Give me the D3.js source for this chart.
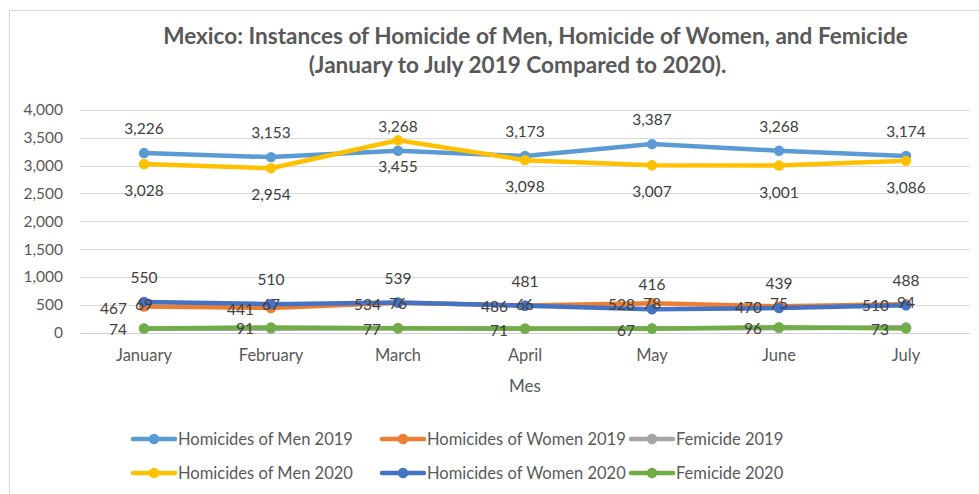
<!DOCTYPE html>
<html><head><meta charset="utf-8">
<script src="https://cdn.jsdelivr.net/npm/d3@7"></script>
<style>
html,body{margin:0;padding:0;background:#fff;}
svg{display:block;font-family:Lato,"Open Sans",sans-serif;}
</style></head>
<body>
<svg id="c" width="979" height="494"></svg>
<script>
const months = ["January","February","March","April","May","June","July"];
const men2019 = [3226,3153,3268,3173,3387,3268,3174];
const women2019 = [467,441,534,486,528,470,510];
const fem2019 = [69,67,76,66,78,75,94];
const men2020 = [3028,2954,3455,3098,3007,3001,3086];
const women2020 = [550,510,539,481,416,439,488];
const fem2020 = [74,91,77,71,67,96,73];
const yTicks = [0,500,1000,1500,2000,2500,3000,3500,4000];
const titleLines = ["Mexico: Instances of Homicide of Men, Homicide of Women, and Femicide","(January to July 2019 Compared to 2020)."];
const xTitle = "Mes";

const series = [
  {name:"Homicides of Men 2019", values:men2019, color:"#5B9BD5", pos:"above"},
  {name:"Homicides of Women 2019", values:women2019, color:"#ED7D31", pos:"left"},
  {name:"Femicide 2019", values:fem2019, color:"#A5A5A5", pos:"above"},
  {name:"Homicides of Men 2020", values:men2020, color:"#FFC000", pos:"below"},
  {name:"Homicides of Women 2020", values:women2020, color:"#4472C4", pos:"above"},
  {name:"Femicide 2020", values:fem2020, color:"#70AD47", pos:"left"}
];

const svg = d3.select("#c");
const FS = 15.5;

// chart border (top & left visible)
svg.append("rect").attr("x",9.5).attr("y",10.5).attr("width",1000).attr("height",1000)
  .attr("fill","none").attr("stroke","#d9d9d9").attr("stroke-width",1);

const x = d3.scaleBand().domain(months).range([80.5,969.5]);
const y = d3.scaleLinear().domain([0,4000]).range([332.5,110]);

// gridlines
svg.append("g").selectAll("line").data(yTicks).join("line")
  .attr("x1",80.5).attr("x2",969.5)
  .attr("y1",d=>Math.round(y(d))+0.5).attr("y2",d=>Math.round(y(d))+0.5)
  .attr("stroke",d=>d===0?"#d0d0d0":"#d9d9d9").attr("stroke-width",1);

// y axis labels
const yAxis = svg.append("g").attr("transform","translate(72,0)")
  .call(d3.axisLeft(y).tickValues(yTicks).tickFormat(d3.format(",")).tickSize(0).tickPadding(9));
yAxis.select(".domain").remove();
yAxis.selectAll("text").attr("font-size",FS).attr("fill","#595959").attr("font-family","Lato");

// x axis labels
const xAxis = svg.append("g").attr("transform","translate(0,332.5)")
  .call(d3.axisBottom(x).tickSize(0).tickPadding(17));
xAxis.select(".domain").remove();
xAxis.selectAll("text").attr("font-size",16.5).attr("fill","#595959").attr("font-family","Lato");

svg.append("text").attr("x",525).attr("y",392).attr("text-anchor","middle")
  .attr("font-size",17).attr("fill","#595959").text(xTitle);

// title
const t1 = svg.append("text").attr("x",535.5).attr("y",44).attr("text-anchor","middle")
  .attr("font-weight","bold").attr("fill","#595959").attr("font-size",20).text(titleLines[0]);
const w = t1.node().getComputedTextLength();
const tfs = 20*745/w;
t1.attr("font-size",tfs);
svg.append("text").attr("x",517.5).attr("y",73).attr("text-anchor","middle")
  .attr("font-weight","bold").attr("fill","#595959").attr("font-size",tfs).text(titleLines[1]);

// lines
const cx = m => x(m)+x.bandwidth()/2;
const line = d3.line().x(d=>cx(d.m)).y(d=>y(d.v));
series.forEach(s=>{
  const pts = s.values.map((v,i)=>({m:months[i],v}));
  const g = svg.append("g");
  g.append("path").datum(pts).attr("d",line).attr("fill","none")
    .attr("stroke",s.color).attr("stroke-width",4.5).attr("stroke-linejoin","round").attr("stroke-linecap","round");
  g.selectAll("circle").data(pts).join("circle")
    .attr("cx",d=>cx(d.m)).attr("cy",d=>y(d.v)).attr("r",5.2).attr("fill",s.color);
});

// data labels
const fmt = d3.format(",");
series.forEach(s=>{
  const pts = s.values.map((v,i)=>({m:months[i],v}));
  svg.append("g").selectAll("text").data(pts).join("text")
    .attr("font-size",FS).attr("fill","#404040")
    .attr("text-anchor",s.pos==="left"?"end":"middle")
    .attr("x",d=>s.pos==="left"?cx(d.m)-17:cx(d.m))
    .attr("y",d=>s.pos==="above"?y(d.v)-19:(s.pos==="below"?y(d.v)+32:y(d.v)+7))
    .text(d=>fmt(d.v));
});

// legend
const legX = [133,382,631];
const legY = [439,473];
// fit legend font so that first entry text spans ~175px
const probe = svg.append("text").attr("font-size",16).text(series[0].name);
const lfs = 16*175/probe.node().getComputedTextLength();
probe.remove();
series.forEach((s,i)=>{
  const col = i%3, row = Math.floor(i/3);
  const g = svg.append("g").attr("transform",`translate(${legX[col]},${legY[row]})`);
  g.append("line").attr("x1",0).attr("x2",42).attr("y1",0).attr("y2",0)
    .attr("stroke",s.color).attr("stroke-width",4.5).attr("stroke-linecap","round");
  g.append("circle").attr("cx",21).attr("cy",0).attr("r",5.2).attr("fill",s.color);
  g.append("text").attr("x",45).attr("y",6).attr("font-size",lfs).attr("fill","#595959").text(s.name);
});
</script>
</body></html>
